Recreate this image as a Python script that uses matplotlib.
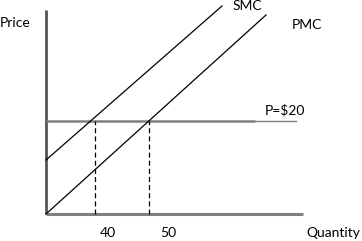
import matplotlib
matplotlib.use('Agg')
import matplotlib.pyplot as plt

# schematic diagram units (origin at the axes corner)
smc_x = [0, 176]
smc_y = [54, 208]
pmc_x = [0, 220]
pmc_y = [0, 199]
price_level = 93
price_line_end = 250
q_social = 49
q_private = 103
q_labels = ['40', '50']
q_label_x = [54, 114]
axis_x_end = 257
axis_y_end = 204

plt.rcParams['font.family'] = ['Lato', 'DejaVu Sans']

fig = plt.figure(figsize=(3.62, 2.41), dpi=100)
ax = fig.add_axes([0, 0, 1, 1])
ax.set_xlim(-46, 316)
ax.set_ylim(-27, 214)
ax.axis('off')

# axes
ax.plot([0, 0], [0, axis_y_end], color='#555555', lw=2, solid_capstyle='butt')
ax.plot([0, axis_x_end], [0, 0], color='#808080', lw=2.2, solid_capstyle='butt')

# price line
ax.plot([0, 209], [price_level, price_level], color='#808080', lw=1.8, solid_capstyle='butt')
ax.plot([209, price_line_end], [price_level, price_level], color='#808080', lw=1.0)

# cost curves
ax.plot(smc_x, smc_y, color='black', lw=0.9)
ax.plot(pmc_x, pmc_y, color='black', lw=0.9)

# quantity drop lines
for q in [q_social, q_private]:
    ax.plot([q, q], [0, price_level], color='black', lw=0.9, ls=(0, (4, 2.5)))

fs = 10
ax.text(-46, 191, 'Price', fontsize=fs, ha='left', va='center')
ax.text(187, 208, 'SMC', fontsize=fs, ha='left', va='center')
ax.text(246, 189, 'PMC', fontsize=fs, ha='left', va='center')
ax.text(219, 104, 'P=$20', fontsize=fs, ha='left', va='center')
for lab, x in zip(q_labels, q_label_x):
    ax.text(x, -19, lab, fontsize=fs, ha='left', va='center')
ax.text(260, -19, 'Quantity', fontsize=fs, ha='left', va='center')

fig.savefig('out.png', dpi=100)
